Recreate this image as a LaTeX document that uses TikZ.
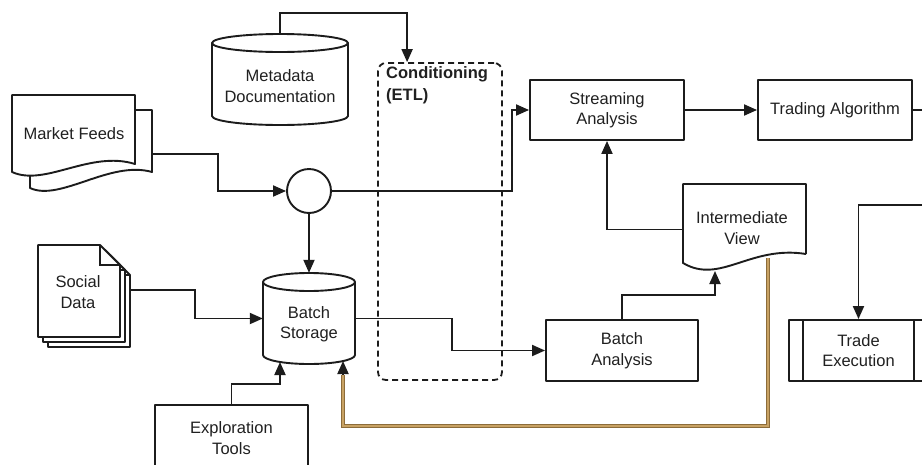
\documentclass[tikz,border=0pt]{standalone}
\usepackage{fontspec}
\setmainfont{Liberation Sans}
\usetikzlibrary{arrows.meta,calc}

\definecolor{ink}{RGB}{28,28,28}
\definecolor{txt}{RGB}{32,32,32}
\definecolor{brownout}{RGB}{140,108,58}
\definecolor{brownin}{RGB}{200,162,100}

\begin{document}
\begin{tikzpicture}[x=1pt,y=-1pt,
  every node/.style={font=\fontsize{16.5}{20.5}\selectfont, text=txt, align=center, inner sep=0pt},
  outline/.style={draw=ink, line width=1.9pt, fill=white, line join=round},
  box/.style={outline, rectangle},
  shapebox/.style={rectangle, draw=none},
  wire/.style={draw=ink, line width=1.9pt},
  conn/.style={wire, -{Triangle[length=13pt,width=11pt]}},
  brownline/.style={draw=brownout, line width=1.2pt, double=brownin, double distance=2.2pt, line join=miter}
]
\fill[white] (0,0) rectangle (922,464);
\useasboundingbox (0,0) rectangle (922,464);
\clip (0,0) rectangle (922,464);

% ---------- ETL stage (dashed frame) ----------
\node[draw=ink, dashed, dash pattern=on 6pt off 4pt, line width=1.8pt, rounded corners=8pt,
      minimum width=124, minimum height=317] (cond) at (440,221.5) {};
\node[anchor=north west, align=left, font=\fontsize{16.5}{22}\selectfont\bfseries] (condlbl) at (386,66) {Conditioning\\(ETL)};

% ---------- Metadata cylinder ----------
\node[shapebox, minimum width=136, minimum height=91] (meta) at (280,79.5) {};
\draw[outline] (212,43) -- (212,116) arc[start angle=180, end angle=0, x radius=68, y radius=9] -- (348,43);
\draw[outline] (280,43) ellipse[x radius=68, y radius=9];
\node (metalbl) at (280,86) {Metadata\\Documentation};

% ---------- Market feeds (multi-document) ----------
\draw[outline] (30,110) -- (152,110) -- (152,172) .. controls (110,160) and (60,202) .. (30,188) -- cycle;
\draw[outline] (12,95) -- (135,95) -- (135,164) .. controls (90,150) and (45,187) .. (12,172) -- cycle;
\node (mf) at (74,134) {Market Feeds};
\coordinate (mfout) at (152,154);

% ---------- Merge point ----------
\node[outline, circle, minimum size=44] (hub) at (309,191) {};

% ---------- Social data (stacked pages) ----------
\foreach \d in {10,5,0}{
  \draw[outline] (38+\d,245+\d) -- (100+\d,245+\d) -- (120+\d,265+\d) -- (120+\d,337+\d) -- (38+\d,337+\d) -- cycle;
  \draw[wire, line width=1.4pt] (100+\d,245+\d) -- (100+\d,265+\d) -- (120+\d,265+\d);
}
\node[shapebox, minimum width=82, minimum height=92] (social) at (79,291) {};
\node (sociallbl) at (78,292) {Social\\Data};
\coordinate (socout) at (130,290);

% ---------- Batch storage cylinder ----------
\node[shapebox, minimum width=92, minimum height=91] (bst) at (309,318.5) {};
\draw[outline] (263,282) -- (263,355) arc[start angle=180, end angle=0, x radius=46, y radius=9] -- (355,282);
\draw[outline] (309,282) ellipse[x radius=46, y radius=9];
\node (bstlbl) at (309,324) {Batch\\Storage};

% ---------- Process boxes ----------
\node[box, minimum width=154, minimum height=60] (stream) at (607,110) {Streaming\\Analysis};
\node[box, minimum width=154, minimum height=60] (trading) at (835,110) {Trading Algorithm};
\node[box, minimum width=152, minimum height=61] (bana) at (622,350.5) {Batch\\Analysis};
\node[box, minimum width=153, minimum height=66] (expl) at (231.5,438) {Exploration\\Tools};

% Trade execution (predefined process)
\node[box, minimum width=139, minimum height=61] (trade) at (858.5,350.5) {Trade\\Execution};
\draw[wire] ($(trade.north west)+(15,0)$) -- ($(trade.south west)+(15,0)$);
\draw[wire] ($(trade.north east)+(-15,0)$) -- ($(trade.south east)+(-15,0)$);

% ---------- Intermediate view (document) ----------
\node[shapebox, minimum width=123, minimum height=81] (iv) at (744.5,224.5) {};
\draw[outline] (806,254) -- (806,184) -- (683,184) -- (683,263) .. controls (720,285) and (750,245) .. (806,254);
\node (ivlbl) at (742,228) {Intermediate\\View};
\coordinate (ivout) at (768,258);

% ---------- Connectors ----------
\draw[conn] (meta.north) |- ($(cond.north west)+(30,-49)$) -- ($(cond.north west)+(30,0)$);
\draw[conn] (mfout) -- (218,154) |- (hub.west);
\draw[conn] (hub.east) -- (512,191) |- (stream.west);
\draw[conn] (stream.east) -- (trading.west);
\coordinate (trout) at (922,110);
\draw[wire] (trading.east) -- (trout);
\draw[conn] (hub.south) -- (bst.north);
\draw[conn] (socout) -- (195,290) |- (bst.west);
\draw[conn] (expl.north) |- (280,384) -- (280,362);
\draw[conn] (bst.east) -- (452,318.5) |- (bana.west);
\draw[conn] (bana.north) |- (715,295) -- (715,271);
\draw[conn] ($(iv.west)+(0,5)$) -| (stream.south);
\coordinate (tein) at (922,205);
\draw[conn] (tein) -| (trade.north);

% feedback from the intermediate view back into batch storage
\coordinate (fbend) at (343,375);
\draw[brownline] (ivout) |- (343,426) -- (fbend);
\draw[conn] (fbend) -- (343,361);
\end{tikzpicture}
\end{document}
